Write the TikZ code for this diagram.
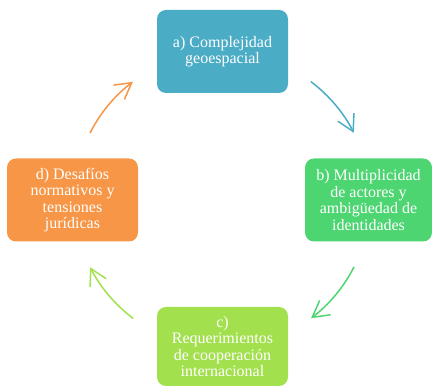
\documentclass[tikz,border=0pt]{standalone}
\usepackage{fontspec}
\setmainfont{Liberation Serif}
\usetikzlibrary{arrows.meta,calc}
\definecolor{cblue}{HTML}{4BACC6}
\definecolor{cgreen}{HTML}{4CD571}
\definecolor{clime}{HTML}{A2E04E}
\definecolor{corange}{HTML}{F79646}
\begin{document}
\begin{tikzpicture}[x=1pt,y=1pt,
  box/.style={rounded corners=9pt, minimum width=131pt, minimum height=83pt,
    inner sep=2pt, align=center, text=white, font=\fontsize{16}{16.5}\selectfont},
  cyc/.style={line width=1.5pt, line cap=round,
    -{Straight Barb[length=16pt,width=18pt,line width=1.5pt]}}]
\useasboundingbox (0,0) rectangle (432,388);
\coordinate (ctr) at (222,188);
\node[box, fill=cblue] (a) at (222.5,336.5) {a) Complejidad\\geoespacial};
\node[box, fill=cgreen, minimum width=127pt] (b) at (368.5,188) {b) Multiplicidad\\de actores y\\ambigüedad de\\identidades};
\node[box, fill=clime, minimum height=79pt] (c) at (222.5,41.5) {c)\\Requerimientos\\de cooperación\\internacional};
\node[box, fill=corange] (d) at (72.5,188) {d) Desafíos\\normativos y\\tensiones\\jurídicas};
\draw[cyc, cblue] ($(ctr)+(53:148)$) arc[start angle=53, end angle=27, radius=148];
\draw[cyc, cgreen] ($(ctr)+(-27:148)$) arc[start angle=-27, end angle=-53, radius=148];
\draw[cyc, clime] ($(ctr)+(-127:148)$) arc[start angle=-127, end angle=-153, radius=148];
\draw[cyc, corange] ($(ctr)+(153:148)$) arc[start angle=153, end angle=127, radius=148];
\end{tikzpicture}
\end{document}
